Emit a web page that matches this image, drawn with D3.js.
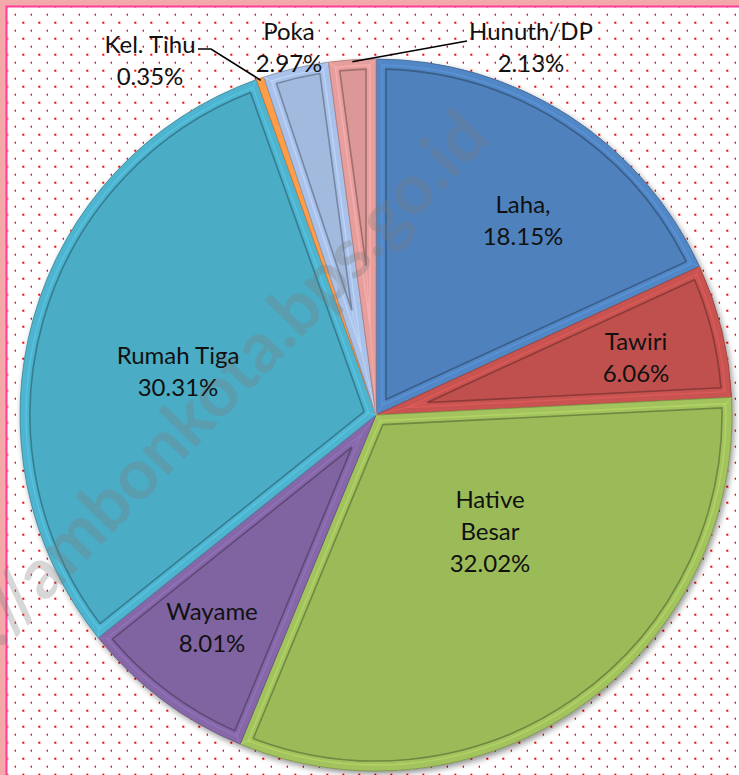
<!DOCTYPE html>
<html>
<head>
<meta charset="utf-8">
<script src="https://cdn.jsdelivr.net/npm/d3@7"></script>
<style>
  html, body { margin: 0; padding: 0; background: #fff; overflow: hidden; }
  svg { display: block; }
  text { font-family: Lato, "Open Sans", sans-serif; }
</style>
</head>
<body>
<svg id="chart" width="739" height="775"></svg>
<script>
// data
const categories = ["Laha,", "Tawiri", "Hative Besar", "Wayame", "Rumah Tiga", "Kel. Tihu", "Poka", "Hunuth/DP"];
const shares = [18.15, 6.06, 32.02, 8.01, 30.31, 0.35, 2.97, 2.13];
const sliceColors = ["#4f81bd", "#c0504d", "#9bbb59", "#8064a2", "#4bacc6", "#f79646", "#a3badf", "#dc9896"];
const watermark = "https://ambonkota.bps.go.id";

const width = 739;
const height = 775;
const cx = 376;
const cy = 415;
const radius = 356;
const bevel = 10;

// where Excel put the labels (center x, middle of first line)
const labelAt = {
  "Laha,": { x: 523, y: 205 },
  "Tawiri": { x: 636, y: 342 },
  "Hative Besar": { x: 490, y: 500, wrap: true },
  "Wayame": { x: 212, y: 612 },
  "Rumah Tiga": { x: 178, y: 356 },
  "Kel. Tihu": { x: 150, y: 45, leader: [[198, 49], [211, 49]] },
  "Poka": { x: 289, y: 32 },
  "Hunuth/DP": { x: 531, y: 32, leader: [[467, 41]] }
};
const lineGap = 32;

const svg = d3.select("#chart");
const defs = svg.append("defs");

// red dotted fill of the chart area
const dots = defs
  .append("pattern")
  .attr("id", "dots")
  .attr("patternUnits", "userSpaceOnUse")
  .attr("width", 16)
  .attr("height", 16);
dots.append("rect").attr("x", 6.3).attr("y", 5.7).attr("width", 2).attr("height", 2).attr("fill", "#ff0000");
dots.append("rect").attr("x", 14.7).attr("y", 13.7).attr("width", 2).attr("height", 2).attr("fill", "#ff0000");

const shadow = defs.append("filter").attr("id", "shadow").attr("x", "-10%").attr("y", "-10%").attr("width", "120%").attr("height", "120%");
shadow
  .append("feDropShadow")
  .attr("dx", 2)
  .attr("dy", 3)
  .attr("stdDeviation", 3)
  .attr("flood-color", "#000")
  .attr("flood-opacity", 0.45);

svg.append("rect").attr("width", width).attr("height", height).attr("fill", "#f4a8a9");
svg
  .append("rect")
  .attr("x", 6.5)
  .attr("y", 6.5)
  .attr("width", width + 20)
  .attr("height", height + 20)
  .attr("fill", "#fff")
  .attr("stroke", "#ff3c9a")
  .attr("stroke-width", 2);
svg
  .append("rect")
  .attr("x", 7.5)
  .attr("y", 7.5)
  .attr("width", width)
  .attr("height", height)
  .attr("fill", "url(#dots)");

const pie = d3.pie().sort(null).value(d => d);
const arcs = pie(shares).map((a, i) => ({ ...a, name: categories[i], color: sliceColors[i] }));
const outerArc = d3.arc().innerRadius(0).outerRadius(radius);

const polar = (a, r) => [r * Math.sin(a), -r * Math.cos(a)];

// inner face of a bevelled wedge: edges moved inward by d
const insetPath = (a0, a1, d) => {
  const th = a1 - a0;
  const ri = radius - d;
  const da = Math.asin(d / ri);
  const k = d / Math.sin(th / 2);
  if (th <= 2 * da + 0.005 || k > ri * 0.85) return null;
  const apex = polar((a0 + a1) / 2, k);
  const b0 = a0 + da;
  const b1 = a1 - da;
  const p = d3.path();
  p.moveTo(apex[0], apex[1]);
  p.lineTo(...polar(b0, ri));
  p.arc(0, 0, ri, b0 - Math.PI / 2, b1 - Math.PI / 2, false);
  p.closePath();
  return { d: p.toString(), apex, c0: polar(b0, ri), c1: polar(b1, ri) };
};

const g = svg.append("g").attr("transform", `translate(${cx},${cy})`);

g.append("circle").attr("r", radius).attr("fill", "#888").attr("filter", "url(#shadow)");

const slices = g
  .selectAll("g.slice")
  .data(arcs)
  .enter()
  .append("g")
  .attr("class", "slice");

// rim
slices
  .append("path")
  .attr("d", outerArc)
  .attr("fill", d => d3.color(d.color).brighter(0.12))
  .attr("stroke", d => d3.color(d.color).darker(0.6))
  .attr("stroke-width", 0.8);

slices.each(function (d) {
  const s = d3.select(this);
  const light = insetPath(d.startAngle, d.endAngle, bevel - 4);
  const face = insetPath(d.startAngle, d.endAngle, bevel);
  if (!face) return;
  // mitre lines from outer corners to inner corners
  const corners = [
    [[0, 0], face.apex],
    [polar(d.startAngle, radius), face.c0],
    [polar(d.endAngle, radius), face.c1]
  ];
  s.selectAll("line")
    .data(corners)
    .enter()
    .append("line")
    .attr("x1", c => c[0][0])
    .attr("y1", c => c[0][1])
    .attr("x2", c => c[1][0])
    .attr("y2", c => c[1][1])
    .attr("stroke", d3.color(d.color).brighter(0.6))
    .attr("stroke-opacity", 0.5)
    .attr("stroke-width", 1);
  if (light) {
    s.append("path")
      .attr("d", light.d)
      .attr("fill", "none")
      .attr("stroke", d3.color(d.color).brighter(0.45))
      .attr("stroke-opacity", 0.7)
      .attr("stroke-width", 1.5);
  }
  s.append("path")
    .attr("d", face.d)
    .attr("fill", d.color)
    .attr("stroke", d3.color(d.color).darker(0.9))
    .attr("stroke-width", 1.6);
});

// watermark
svg
  .append("text")
  .attr("transform", `translate(492,140) rotate(-46)`)
  .attr("text-anchor", "end")
  .attr("font-family", "'Liberation Sans', Arial, sans-serif")
  .attr("font-weight", "bold")
  .attr("font-size", 70)
  .attr("fill", "#7a7a7a")
  .attr("fill-opacity", 0.3)
  .text(watermark);

// leader lines
const leaders = arcs.filter(d => labelAt[d.name].leader);
svg
  .selectAll("polyline.leader")
  .data(leaders)
  .enter()
  .append("polyline")
  .attr("class", "leader")
  .attr("points", d => {
    const end = polar((d.startAngle + d.endAngle) / 2, radius - 2);
    const pts = labelAt[d.name].leader.concat([[cx + end[0], cy + end[1]]]);
    return pts.map(p => p.join(",")).join(" ");
  })
  .attr("fill", "none")
  .attr("stroke", "#000")
  .attr("stroke-width", 1.5);

// labels
const labels = svg
  .selectAll("text.label")
  .data(arcs)
  .enter()
  .append("text")
  .attr("class", "label")
  .attr("text-anchor", "middle")
  .attr("font-size", 24)
  .attr("fill", "#111");

labels.each(function (d) {
  const at = labelAt[d.name];
  const lines = (at.wrap ? d.name.split(" ") : [d.name]).concat([d3.format(".2f")(d.data) + "%"]);
  d3.select(this)
    .selectAll("tspan")
    .data(lines)
    .enter()
    .append("tspan")
    .attr("x", at.x)
    .attr("y", (t, i) => at.y + 8 + i * lineGap)
    .text(t => t);
});
</script>
</body>
</html>
